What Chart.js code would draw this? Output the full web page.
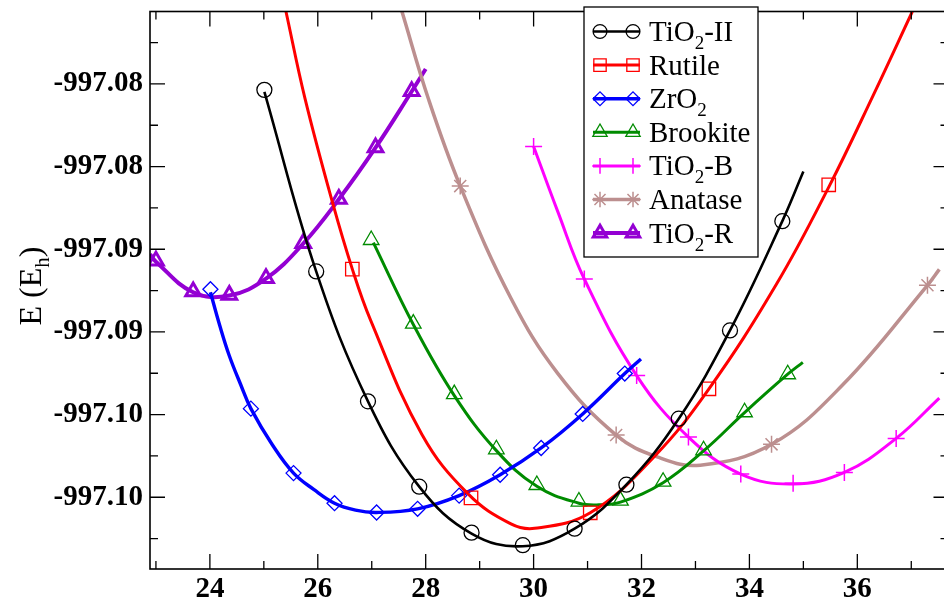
<!DOCTYPE html>
<html><head><meta charset="utf-8">
<style>
html,body{margin:0;padding:0;background:#fff;overflow:hidden;width:944px;height:605px}
#wrap{position:relative;width:960px;height:605px}
canvas{display:block}
</style>
<script src="https://cdn.jsdelivr.net/npm/chart.js@4.4.0/dist/chart.umd.min.js"></script>
</head><body><div id="wrap"><canvas id="c" width="960" height="605"></canvas></div>
<script>
// ---------- axis ticks ----------
const xTicks = [24, 26, 28, 30, 32, 34, 36];
const xTickLabels = ['24', '26', '28', '30', '32', '34', '36'];
const xMinorTicks = [23, 25, 27, 29, 31, 33, 35, 37];
const yTicks = [-997.075, -997.080, -997.085, -997.090, -997.095, -997.100];
const yTickLabels = ['-997.08', '-997.08', '-997.09', '-997.09', '-997.10', '-997.10'];
const yMinorTicks = [-997.0725, -997.0775, -997.0825, -997.0875, -997.0925, -997.0975, -997.1025];

// ---------- series names (legend; "_" marks a one-character subscript) ----------
const seriesNames = ['TiO_2-II', 'Rutile', 'ZrO_2', 'Brookite', 'TiO_2-B', 'Anatase', 'TiO_2-R'];

// ---------- TiO2-II ----------
const tio2IIX = [25.01, 25.97, 26.93, 27.88, 28.85, 29.80, 30.76, 31.72, 32.69, 33.64, 34.61];
const tio2IIY = [-997.07536, -997.08634, -997.09420, -997.09936, -997.10214, -997.10290, -997.10190, -997.09924, -997.09525, -997.08991, -997.08330];
const tio2IIFitX = [25.01, 25.97, 26.93, 27.88, 28.85, 29.80, 30.76, 31.72, 32.69, 33.64, 34.61, 35.00];
const tio2IIFitY = [-997.07548, -997.08634, -997.09420, -997.09936, -997.10220, -997.10296, -997.10190, -997.09924, -997.09525, -997.08991, -997.08330, -997.08030];

// ---------- Rutile ----------
const rutileX = [26.64, 28.84, 31.05, 33.25, 35.47];
const rutileY = [-997.08620, -997.10004, -997.10094, -997.09344, -997.08110];
const rutileFitX = [25.41, 25.76, 26.27, 26.64, 26.98, 27.93, 28.79, 29.58, 30.02, 31.05, 32.23, 33.25, 34.50, 35.48, 36.29, 37.02];
const rutileFitY = [-997.07062, -997.07584, -997.08214, -997.08620, -997.08930, -997.09620, -997.09981, -997.10161, -997.10188, -997.10094, -997.09756, -997.09344, -997.08712, -997.08118, -997.07572, -997.07062];

// ---------- ZrO2 ----------
const zro2X = [24.01, 24.76, 25.55, 26.31, 27.09, 27.85, 28.62, 29.38, 30.14, 30.91, 31.69];
const zro2Y = [-997.08742, -997.09464, -997.09854, -997.10036, -997.10092, -997.10070, -997.09990, -997.09864, -997.09702, -997.09496, -997.09252];
const zro2FitX = [24.01, 24.18, 24.36, 24.57, 24.76, 25.16, 25.55, 25.93, 26.31, 26.70, 27.09, 27.85, 28.62, 29.38, 30.14, 30.91, 31.69, 31.99];
const zro2FitY = [-997.08760, -997.08958, -997.09144, -997.09318, -997.09464, -997.09684, -997.09854, -997.09954, -997.10036, -997.10078, -997.10092, -997.10070, -997.09990, -997.09864, -997.09702, -997.09496, -997.09252, -997.09164];

// ---------- Brookite ----------
const brookiteX = [26.99, 27.77, 28.53, 29.31, 30.06, 30.84, 31.61, 32.40, 33.15, 33.91, 34.71];
const brookiteY = [-997.08444, -997.08950, -997.09376, -997.09710, -997.09926, -997.10026, -997.10020, -997.09906, -997.09716, -997.09486, -997.09256];
const brookiteFitX = [27.03, 27.77, 28.53, 29.31, 30.06, 30.84, 31.21, 31.61, 32.40, 33.15, 33.91, 34.71, 34.99];
const brookiteFitY = [-997.08460, -997.08955, -997.09385, -997.09718, -997.09934, -997.10036, -997.10046, -997.10030, -997.09912, -997.09720, -997.09488, -997.09256, -997.09184];

// ---------- TiO2-B ----------
const tio2BX = [30.00, 30.94, 31.91, 32.87, 33.84, 34.81, 35.76, 36.72];
const tio2BY = [-997.07878, -997.08680, -997.09264, -997.09636, -997.09860, -997.09916, -997.09850, -997.09644];
const tio2BFitX = [30.00, 30.45, 30.94, 31.91, 32.87, 33.84, 34.81, 35.76, 36.72, 37.52];
const tio2BFitY = [-997.07878, -997.08274, -997.08680, -997.09264, -997.09636, -997.09860, -997.09920, -997.09850, -997.09644, -997.09400];

// ---------- Anatase ----------
const anataseX = [28.64, 31.53, 34.41, 37.30];
const anataseY = [-997.08118, -997.09624, -997.09680, -997.08718];
const anataseFitX = [27.56, 28.05, 28.64, 29.58, 30.45, 31.53, 32.29, 33.09, 34.41, 35.73, 37.30, 37.52];
const anataseFitY = [-997.07062, -997.07590, -997.08118, -997.08796, -997.09252, -997.09624, -997.09756, -997.09806, -997.09680, -997.09320, -997.08718, -997.08622];

// ---------- TiO2-R ----------
const tio2RX = [23.00, 23.69, 24.36, 25.04, 25.73, 26.39, 27.07, 27.74];
const tio2RY = [-997.08570, -997.08756, -997.08776, -997.08676, -997.08464, -997.08196, -997.07884, -997.07544];
const tio2RFitX = [22.89, 23.00, 23.69, 24.36, 25.04, 25.73, 26.39, 27.07, 27.74, 28.00];
const tio2RFitY = [-997.08530, -997.08575, -997.08760, -997.08780, -997.08678, -997.08466, -997.08198, -997.07886, -997.07546, -997.07410];

// ---------- styles ----------
const series = [
  {mx: tio2IIX, my: tio2IIY, fx: tio2IIFitX, fy: tio2IIFitY, color: '#000000', lw: 2.6, style: 'circle', r: 7.5, mw: 1.3},
  {mx: rutileX, my: rutileY, fx: rutileFitX, fy: rutileFitY, color: '#ff0000', lw: 3, style: 'rect', r: 9.5, mw: 1.3},
  {mx: zro2X, my: zro2Y, fx: zro2FitX, fy: zro2FitY, color: '#0000ff', lw: 3.4, style: 'rectRot', r: 7.5, mw: 1.3},
  {mx: brookiteX, my: brookiteY, fx: brookiteFitX, fy: brookiteFitY, color: 'rgb(0,139,0)', lw: 3, style: 'triangle', r: 9, mw: 1.3},
  {mx: tio2BX, my: tio2BY, fx: tio2BFitX, fy: tio2BFitY, color: '#ff00ff', lw: 3, style: 'cross', r: 8.5, mw: 1.5},
  {mx: anataseX, my: anataseY, fx: anataseFitX, fy: anataseFitY, color: 'rgb(188,143,143)', lw: 3.5, style: 'star', r: 8.5, mw: 1.5},
  {mx: tio2RX, my: tio2RY, fx: tio2RFitX, fy: tio2RFitY, color: 'rgb(148,0,211)', lw: 4, style: 'triangle', r: 8.5, mw: 3}
];

const SERIF = '"Liberation Serif", "Times New Roman", serif';

const datasets = [];
series.forEach((s, i) => {
  datasets.push({
    type: 'line', label: seriesNames[i] + ' fit',
    data: s.fx.map((x, k) => ({x: x, y: s.fy[k]})),
    borderColor: s.color, borderWidth: s.lw, pointRadius: 0, tension: 0.4, fill: false
  });
  datasets.push({
    type: 'scatter', label: seriesNames[i],
    data: s.mx.map((x, k) => ({x: x, y: s.my[k]})),
    showLine: false, pointStyle: s.style, pointRadius: s.r, pointBorderColor: s.color,
    pointBackgroundColor: 'rgba(0,0,0,0)', pointBorderWidth: s.mw
  });
});

function drawMarker(ctx, style, x, y, r, color, lw) {
  ctx.save();
  ctx.strokeStyle = color; ctx.lineWidth = lw; ctx.beginPath();
  if (style === 'circle') { ctx.arc(x, y, r, 0, Math.PI * 2); }
  else if (style === 'rect') { const s = r * Math.SQRT1_2; ctx.rect(x - s, y - s, 2 * s, 2 * s); }
  else if (style === 'rectRot') { ctx.moveTo(x - r, y); ctx.lineTo(x, y - r); ctx.lineTo(x + r, y); ctx.lineTo(x, y + r); ctx.closePath(); }
  else if (style === 'triangle') {
    for (let k = 0; k < 3; k++) { const a = k * 2 * Math.PI / 3; const px = x + Math.sin(a) * r, py = y - Math.cos(a) * r; if (k) ctx.lineTo(px, py); else ctx.moveTo(px, py); }
    ctx.closePath();
  }
  else if (style === 'cross') { ctx.moveTo(x - r, y); ctx.lineTo(x + r, y); ctx.moveTo(x, y - r); ctx.lineTo(x, y + r); }
  else if (style === 'star') {
    ctx.moveTo(x - r, y); ctx.lineTo(x + r, y); ctx.moveTo(x, y - r); ctx.lineTo(x, y + r);
    const d = r * Math.SQRT1_2; ctx.moveTo(x - d, y - d); ctx.lineTo(x + d, y + d); ctx.moveTo(x + d, y - d); ctx.lineTo(x - d, y + d);
  }
  ctx.stroke(); ctx.restore();
}

function splitSub(text) {
  const parts = [];
  for (let i = 0; i < text.length; i++) {
    if (text[i] === '_' && i + 1 < text.length) { parts.push({t: text[i + 1], sub: true}); i++; }
    else { if (parts.length && !parts[parts.length - 1].sub) parts[parts.length - 1].t += text[i]; else parts.push({t: text[i], sub: false}); }
  }
  return parts;
}
function drawSubText(ctx, text, x, y, size, subSize, subDy) {
  let cx = x;
  splitSub(text).forEach(p => {
    ctx.font = (p.sub ? subSize : size) + 'px ' + SERIF;
    ctx.fillText(p.t, cx, p.sub ? y + subDy : y);
    cx += ctx.measureText(p.t).width;
  });
  return cx - x;
}
function measureSubText(ctx, text, size, subSize) {
  let w = 0;
  splitSub(text).forEach(p => { ctx.font = (p.sub ? subSize : size) + 'px ' + SERIF; w += ctx.measureText(p.t).width; });
  return w;
}

const framePlugin = {
  id: 'frame',
  afterDatasetsDraw(chart) {
    const ctx = chart.ctx, a = chart.chartArea, xs = chart.scales.x, ys = chart.scales.y;
    ctx.save();
    ctx.strokeStyle = '#000'; ctx.lineWidth = 1.6;
    ctx.strokeRect(a.left, a.top, a.right - a.left, a.bottom - a.top);
    ctx.lineWidth = 1.3;
    ctx.beginPath();
    const tick = (vals, len, horiz) => {
      vals.forEach(v => {
        if (horiz) {
          const px = xs.getPixelForValue(v);
          ctx.moveTo(px, a.bottom); ctx.lineTo(px, a.bottom - len);
          ctx.moveTo(px, a.top); ctx.lineTo(px, a.top + len);
        } else {
          const py = ys.getPixelForValue(v);
          ctx.moveTo(a.left, py); ctx.lineTo(a.left + len, py);
          ctx.moveTo(a.right, py); ctx.lineTo(a.right - len, py);
        }
      });
    };
    tick(xTicks, 15, true); tick(xMinorTicks, 8, true);
    tick(yTicks, 15, false); tick(yMinorTicks, 8, false);
    ctx.stroke();
    ctx.restore();
  },
  afterDraw(chart) {
    const ctx = chart.ctx;
    // legend
    ctx.save();
    const bx = 584, by = 7, bw = 174, bh = 250;
    ctx.fillStyle = '#fff'; ctx.fillRect(bx, by, bw, bh);
    ctx.strokeStyle = '#000'; ctx.lineWidth = 1.3; ctx.strokeRect(bx, by, bw, bh);
    series.forEach((s, i) => {
      const ry = 31.5 + 33.6 * i;
      ctx.strokeStyle = s.color; ctx.lineWidth = s.lw;
      ctx.beginPath(); ctx.moveTo(593, ry); ctx.lineTo(640, ry); ctx.stroke();
      drawMarker(ctx, s.style, 600, ry, s.r * 0.92, s.color, s.mw);
      drawMarker(ctx, s.style, 633, ry, s.r * 0.92, s.color, s.mw);
      ctx.fillStyle = '#000'; ctx.textBaseline = 'alphabetic'; ctx.textAlign = 'left';
      drawSubText(ctx, seriesNames[i], 649, ry + 9.5, 29, 19, 8);
    });
    ctx.restore();
    // y axis title
    ctx.save();
    const title = 'E (E_h)';
    const tw = measureSubText(ctx, title, 32, 21);
    ctx.translate(41, 286); ctx.rotate(-Math.PI / 2);
    ctx.fillStyle = '#000'; ctx.textBaseline = 'alphabetic'; ctx.textAlign = 'left';
    drawSubText(ctx, title, -tw / 2, 0, 32, 21, 8);
    ctx.restore();
  }
};

new Chart(document.getElementById('c'), {
  data: {datasets: datasets},
  options: {
    responsive: false, animation: false, devicePixelRatio: 1,
    layout: {padding: {top: 7, right: 7, left: 0, bottom: 0}},
    plugins: {legend: {display: false}, tooltip: {enabled: false}},
    scales: {
      x: {
        type: 'linear', min: 22.89, max: 37.69,
        grid: {display: false, drawTicks: false}, border: {display: false},
        afterBuildTicks: sc => { sc.ticks = xTicks.map(v => ({value: v})); },
        afterFit: sc => { sc.height = 36; sc.paddingLeft = 0; sc.paddingRight = 0; },
        ticks: {
          callback: (v, idx) => xTickLabels[idx],
          font: {family: SERIF, size: 29, weight: 'bold'}, color: '#000', padding: 3,
          maxRotation: 0, autoSkip: false
        }
      },
      y: {
        type: 'linear', min: -997.10434, max: -997.07062,
        grid: {display: false, drawTicks: false}, border: {display: false},
        afterBuildTicks: sc => { sc.ticks = yTicks.map(v => ({value: v})); },
        afterFit: sc => { sc.width = 150; sc.paddingTop = 0; sc.paddingBottom = 0; },
        ticks: {
          callback: (v, idx) => yTickLabels[idx],
          font: {family: SERIF, size: 29, weight: 'bold'}, color: '#000', padding: 7,
          autoSkip: false
        }
      }
    }
  },
  plugins: [framePlugin]
});
</script>
</body></html>
